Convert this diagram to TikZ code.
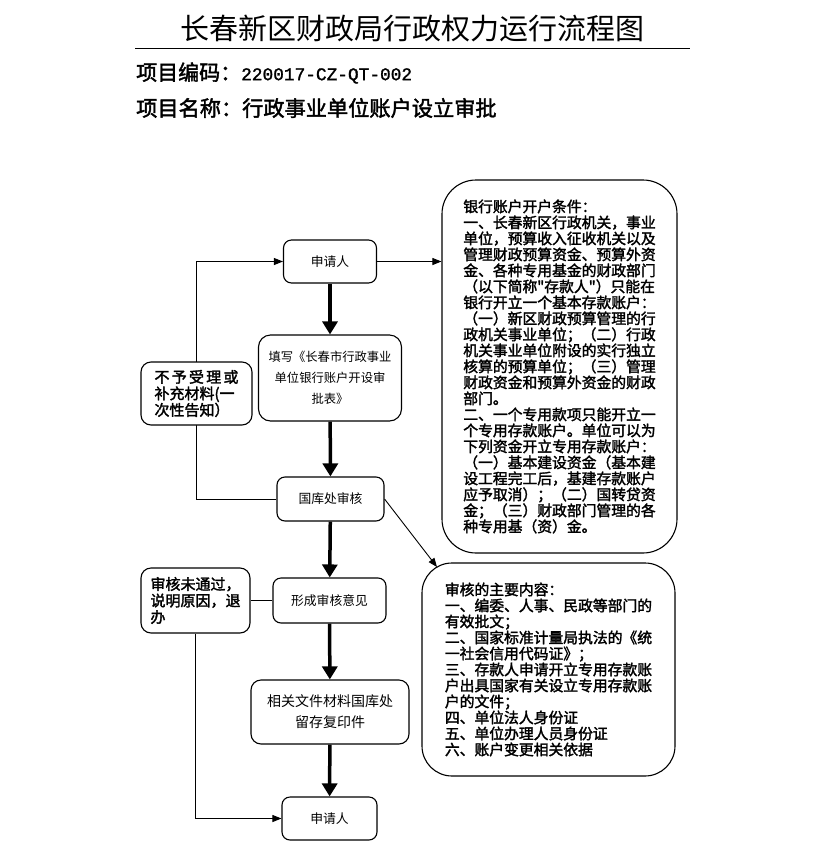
\documentclass[tikz,border=0pt]{standalone}
\usepackage{fontspec}
\setmainfont{Noto Sans CJK SC}
\newfontfamily\cjkb{Noto Sans CJK SC}[FakeBold=2]
\newfontfamily\monob{Liberation Mono}[FakeBold=1.5]
\usetikzlibrary{arrows.meta,backgrounds}
\begin{document}
\begin{tikzpicture}[x=1pt,y=-1pt,
  box/.style={draw, line width=1.1pt, rounded corners=8pt, fill=white, inner sep=0pt, align=center,
    font=\fontsize{12.8}{21}\selectfont},
  bbox/.style={draw, line width=1.1pt, rounded corners=10pt, fill=white, inner sep=0pt, align=left,
    font=\cjkb\fontsize{15}{16.5}\selectfont},
  bigbox/.style={draw, line width=1.1pt, rounded corners=34pt, fill=white, inner sep=0pt, align=left,
    font=\cjkb\fontsize{14.8}{16}\selectfont},
  thickarrow/.style={line width=3.5pt, -{Triangle[width=15pt,length=13pt]}},
  thinarrow/.style={line width=0.9pt, -{Triangle[width=7pt,length=9pt]}},
  thinline/.style={line width=0.9pt}]
\useasboundingbox (0,0) rectangle (823,855);

% header
\node[font=\fontsize{29}{30}\selectfont] (title) at (412,28) {长春新区财政局行政权力运行流程图};
\coordinate (rulel) at (135,48);
\coordinate (ruler) at (690,48);
\draw[line width=1pt] (rulel) -- (ruler);
\node[anchor=west, inner sep=0pt, font=\fontsize{21}{22}\selectfont] (code) at (136,73)
  {{\cjkb 项目编码：}{\monob\fontsize{17.8}{20}\selectfont 220017-CZ-QT-002}};
\node[anchor=west, inner sep=0pt, font=\cjkb\fontsize{21.2}{22}\selectfont] (name) at (136,108)
  {项目名称：行政事业单位账户设立审批};

% main flow
\node[box, minimum width=93pt, minimum height=43pt] (sq1) at (330,261.5) {申请人};
\node[box, minimum width=143pt, minimum height=86pt, rounded corners=12pt, font=\fontsize{12.3}{21}\selectfont] (form) at (330,378)
  {填写《长春市行政事业\\单位银行账户开设审\\批表》};
\node[box, minimum width=107pt, minimum height=44pt] (gk) at (330.5,499) {国库处审核};
\node[box, minimum width=113pt, minimum height=45pt] (xc) at (329.5,600.5) {形成审核意见};
\node[box, minimum width=158pt, minimum height=64pt, rounded corners=10pt, font=\fontsize{14}{21}\selectfont] (xg) at (330,712)
  {相关文件材料国库处\\留存复印件};
\node[box, minimum width=95pt, minimum height=43pt] (sq2) at (329.5,818.5) {申请人};

% left boxes
\node[bbox, minimum width=111pt, minimum height=63pt] (left1) at (196.5,393.5)
  {\makebox[84pt][s]{不\hfill 予\hfill 受\hfill 理\hfill 或}\\补充材料(一\\次性告知）};
\node[bbox, minimum width=109pt, minimum height=65pt] (left2) at (195.5,600.5)
  {审核未通过，\\说明原因，退\\办};

% right boxes
\node[bigbox, minimum width=235pt, minimum height=373pt] (rb) at (559.5,366.5)
  {银行账户开户条件：\\
   一、长春新区行政机关，事业\\
   单位，预算收入征收机关以及\\
   管理财政预算资金、预算外资\\
   金、各种专用基金的财政部门\\
   （以下简称"存款人"）只能在\\
   银行开立一个基本存款账户：\\
   （一）新区财政预算管理的行\\
   政机关事业单位；（二）行政\\
   机关事业单位附设的实行独立\\
   核算的预算单位；（三）管理\\
   财政资金和预算外资金的财政\\
   部门。\\
   二、一个专用款项只能开立一\\
   个专用存款账户。单位可以为\\
   下列资金开立专用存款账户：\\
   （一）基本建设资金（基本建\\
   设工程完工后，基建存款账户\\
   应予取消）；（二）国转贷资\\
   金；（三）财政部门管理的各\\
   种专用基（资）金。};
\node[bigbox, minimum width=253pt, minimum height=213pt, rounded corners=30pt] (rl) at (548.5,669.5)
  {审核的主要内容：\\
   一、编委、人事、民政等部门的\\
   有效批文；\\
   二、国家标准计量局执法的《统\\
   一社会信用代码证》；\\
   三、存款人申请开立专用存款账\\
   户出具国家有关设立专用存款账\\
   户的文件；\\
   四、单位法人身份证\\
   五、单位办理人员身份证\\
   六、账户变更相关依据};
\coordinate (rlin) at (437,567);

\begin{scope}[on background layer]
  \draw[thickarrow] (sq1) -- (form);
  \draw[thickarrow] (form) -- (gk);
  \draw[thickarrow] (gk) -- (xc);
  \draw[thickarrow] (xc) -- (xg);
  \draw[thickarrow] (xg) -- (sq2);
  \draw[thinarrow] (sq1.east) -- (sq1.east -| rb.west);
  \draw[thinarrow] (gk.west) -| (left1.center) |- (sq1.west);
  \draw[thinline] (xc.west) -- (left2.east);
  \draw[thinarrow] (left2.south) |- (sq2.west);
  \draw[thinarrow] (gk.east) -- (rlin);
\end{scope}
\end{tikzpicture}
\end{document}
